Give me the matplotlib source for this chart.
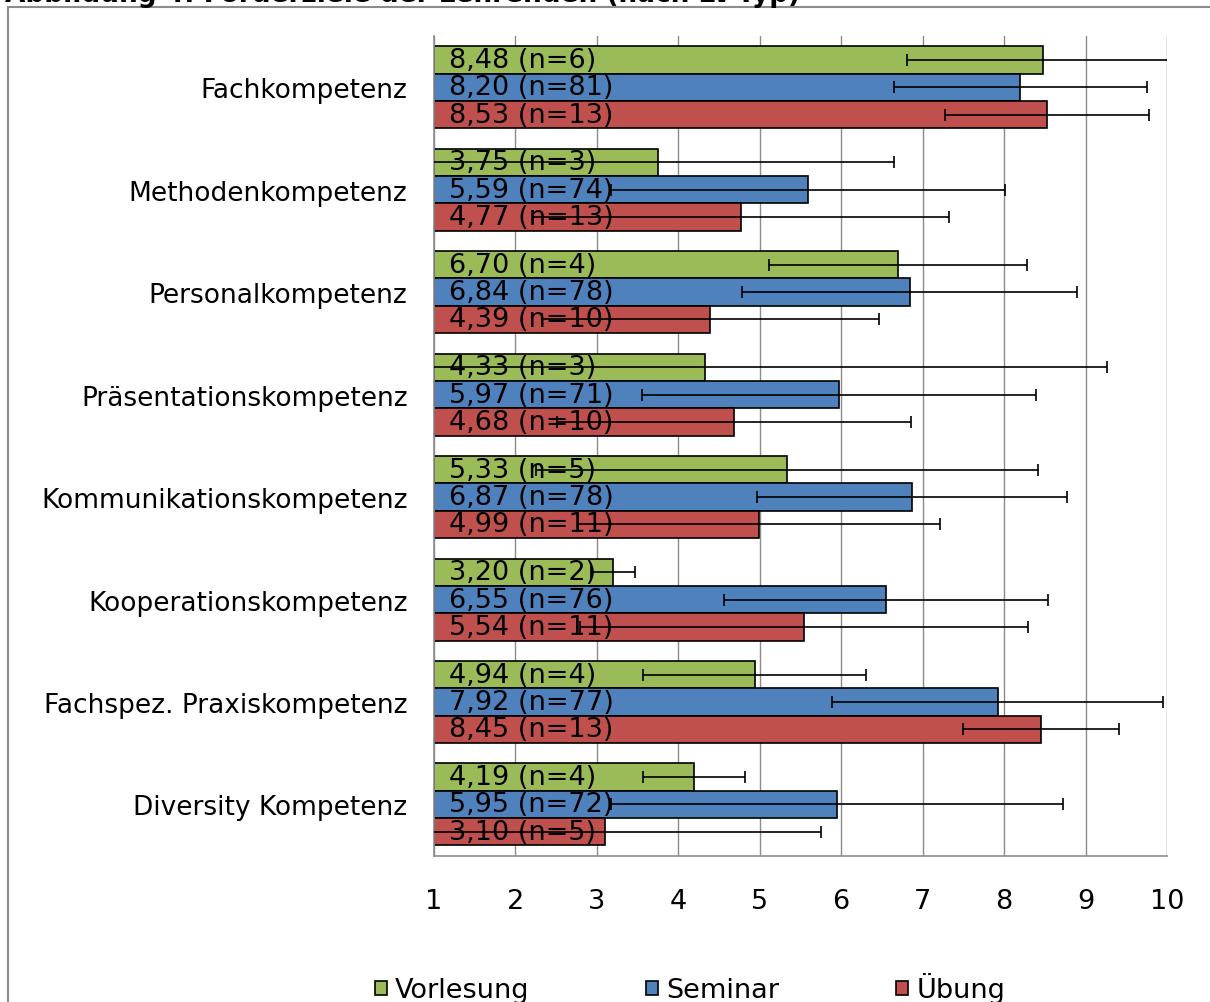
import matplotlib
matplotlib.use("Agg")
import matplotlib.pyplot as plt
from matplotlib.patches import Rectangle
import numpy as np

plt.rcParams['font.family'] = ['DejaVu Sans']

title = "Abbildung 4: Förderziele der Lehrenden (nach LV-Typ)"
categories = ["Fachkompetenz", "Methodenkompetenz", "Personalkompetenz",
              "Präsentationskompetenz", "Kommunikationskompetenz",
              "Kooperationskompetenz", "Fachspez. Praxiskompetenz",
              "Diversity Kompetenz"]
series_names = ["Vorlesung", "Seminar", "Übung"]
colors = ["#9BBB59", "#4F81BD", "#C0504D"]

vorlesung_mean = [8.48, 3.75, 6.70, 4.33, 5.33, 3.20, 4.94, 4.19]
vorlesung_n = [6, 3, 4, 3, 5, 2, 4, 4]
vorlesung_sd = [1.67, 2.90, 1.585, 4.93, 3.08, 0.27, 1.37, 0.625]

seminar_mean = [8.20, 5.59, 6.84, 5.97, 6.87, 6.55, 7.92, 5.95]
seminar_n = [81, 74, 78, 71, 78, 76, 77, 72]
seminar_sd = [1.555, 2.415, 2.055, 2.42, 1.905, 1.985, 2.035, 2.775]

uebung_mean = [8.53, 4.77, 4.39, 4.68, 4.99, 5.54, 8.45, 3.10]
uebung_n = [13, 13, 10, 10, 11, 11, 13, 5]
uebung_sd = [1.255, 2.55, 2.07, 2.175, 2.225, 2.75, 0.955, 2.65]

xticks = [1, 2, 3, 4, 5, 6, 7, 8, 9, 10]

means = [vorlesung_mean, seminar_mean, uebung_mean]
ns = [vorlesung_n, seminar_n, uebung_n]
sds = [vorlesung_sd, seminar_sd, uebung_sd]

W, H = 1210, 1003
fig = plt.figure(figsize=(W / 100, H / 100), dpi=100)
ax = fig.add_axes([434 / W, 1 - 856.7 / H, (1167 - 434) / W, (856.7 - 37) / H])

y = np.arange(len(categories))
bh = 0.2667
offsets = [-bh, 0, bh]
handles = []
for k in range(3):
    yy = y + offsets[k]
    b = ax.barh(yy, np.array(means[k]) - 1, left=1, height=bh,
                color=colors[k], edgecolor="black", linewidth=1.2,
                label=series_names[k], zorder=2)
    handles.append(b)
    for i in range(len(categories)):
        ax.annotate(f"{means[k][i]:.2f}".replace(".", ",") + f" (n={ns[k][i]})",
                    xy=(1, yy[i]), xytext=(11, 0), textcoords="offset points",
                    va="center", ha="left", fontsize=19.5, color="black",
                    zorder=3)
    ax.errorbar(means[k], yy, xerr=sds[k], fmt="none", ecolor="black",
                elinewidth=1.2, capsize=4, capthick=1.2, zorder=4)

ax.set_xlim(1, 10)
ax.set_ylim(len(categories) - 0.5, -0.5)
ax.set_yticks(y)
ax.set_yticklabels(categories, fontsize=19)
ax.set_xticks(xticks)
ax.set_xticklabels([str(t) for t in xticks], fontsize=19.5)
ax.tick_params(axis="y", length=0, pad=19)
ax.tick_params(axis="x", length=0, pad=23)
ax.grid(axis="x", color="#8C8C8C", linewidth=1.0, zorder=0)
ax.set_axisbelow(True)
for s in ["top", "right"]:
    ax.spines[s].set_visible(False)
for s in ["left", "bottom"]:
    ax.spines[s].set_color("#8C8C8C")
    ax.spines[s].set_linewidth(1.2)

leg = fig.legend(handles=handles, labels=series_names, loc="center",
                 bbox_to_anchor=(690 / W, 14 / H), ncol=3, frameon=False,
                 fontsize=19.5, handlelength=0.45, handleheight=0.45,
                 handletextpad=0.3, columnspacing=4.3)

fig.patches.append(Rectangle((8 / W, -0.1), 1.2, (H - 8) / H + 0.1,
                             transform=fig.transFigure, fill=False,
                             edgecolor="#8C8C8C", linewidth=1.5))

fig.text(5 / W, 1 - 2 / H, title, ha="left", va="baseline",
         fontsize=19, fontweight="bold")

fig.savefig("out.png", dpi=100)
